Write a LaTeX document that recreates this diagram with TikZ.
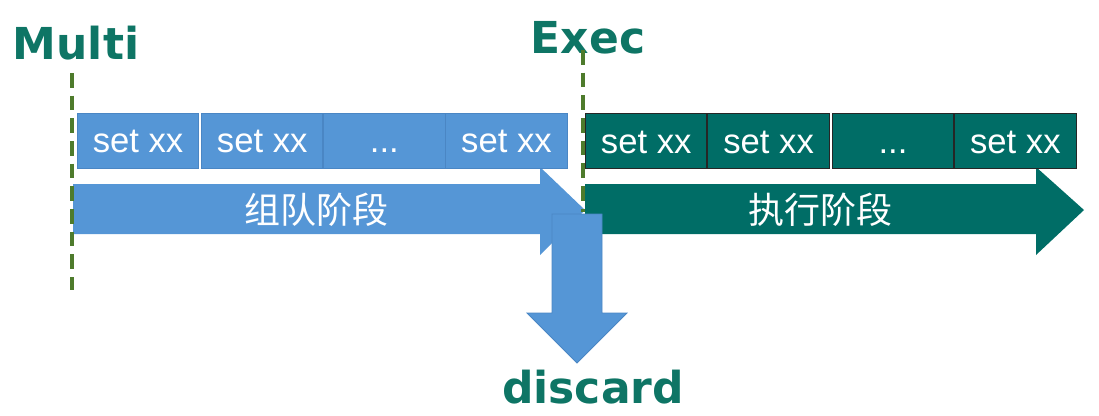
\documentclass[tikz,border=0pt]{standalone}
\usepackage{fontspec}
\setmainfont{Liberation Sans}
\newfontfamily\headfont{DejaVu Sans}
\newfontfamily\cjk{Noto Sans CJK SC}
\usetikzlibrary{positioning}

\definecolor{queueblue}{HTML}{5596D6}
\definecolor{queueedge}{HTML}{4A86C4}
\definecolor{execteal}{HTML}{006D66}
\definecolor{headteal}{HTML}{0E7565}
\definecolor{markolive}{HTML}{4E7B2C}

\begin{document}
\begin{tikzpicture}[
  x=0.75pt, y=-0.75pt,
  node distance=0pt,
  cmd/.style={text=white, minimum width=91pt, minimum height=41.25pt,
              inner sep=0pt, text height=18pt, text depth=0pt,
              font=\fontsize{26}{26}\selectfont},
  queued/.style={cmd, draw=queueedge, fill=queueblue, line width=0.6pt},
  execd/.style={cmd, draw=black!85, fill=execteal, line width=0.8pt},
  phase/.style={text=white, font=\cjk\fontsize{27}{27}\selectfont},
  head/.style={text=headteal, font=\headfont\bfseries\fontsize{33}{33}\selectfont},
  marker/.style={draw=markolive, line width=2.6pt, dash pattern=on 11pt off 6pt}
]
  \useasboundingbox (0,0) rectangle (1099,415);

  % stage arrows
  \fill[queueblue] (73,184) -- (540,184) -- (540,167) -- (585,210)
    -- (540,255) -- (540,234) -- (73,234) -- cycle;
  \fill[execteal] (585,184) -- (1036,184) -- (1036,167) -- (1084,210)
    -- (1036,255) -- (1036,234) -- (585,234) -- cycle;

  % queued commands
  \node[queued, anchor=north west] (q1) at (77,113) {set xx};
  \node[queued, right=1.5pt of q1] (q2) {set xx};
  \node[queued, right=of q2] (q3) {...};
  \node[queued, right=of q3] (q4) {set xx};

  % executed commands
  \node[execd, anchor=north west] (e1) at (585,113) {set xx};
  \node[execd, right=of e1] (e2) {set xx};
  \node[execd, right=1.5pt of e2] (e3) {...};
  \node[execd, right=of e3] (e4) {set xx};

  \node[phase] (queuing) at (316,210) {组队阶段};
  \node[phase] (running) at (820,210) {执行阶段};

  % markers
  \node[head] (multi) at (76,43) {Multi};
  \node[head] (exec) at (588,38) {Exec};
  \coordinate (multitop) at (72,73);
  \coordinate (multibot) at (72,290);
  \coordinate (exectop) at (583,50);
  \coordinate (execbot) at (583,212);
  \draw[marker] (multitop) -- (multibot);
  \draw[marker] (exectop) -- (execbot);

  % discard
  \filldraw[fill=queueblue, draw=queueedge, line width=0.6pt]
    (552,214) -- (602,214) -- (602,313) -- (627,313) -- (577,363)
    -- (527,313) -- (552,313) -- cycle;
  \node[head, anchor=base] (discard) at (593,403) {discard};
\end{tikzpicture}
\end{document}
